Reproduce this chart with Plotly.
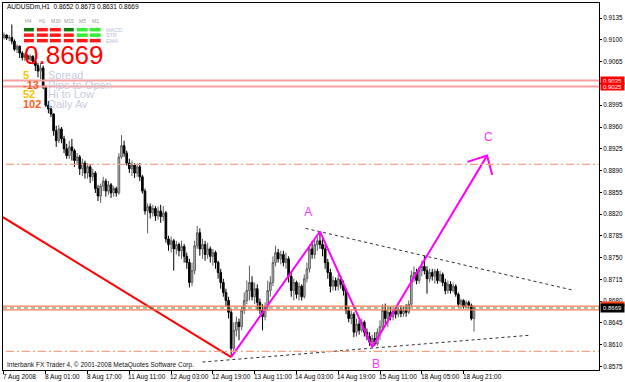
import plotly.graph_objects as go

# ---------------- data ----------------
TITLE_TEXT = "AUDUSDm,H1  0.8652 0.8673 0.8631 0.8669"
COPYRIGHT = "Interbank FX Trader 4, © 2001-2008 MetaQuotes Software Corp."

# hourly bars, prices in pips (x 0.0001)
OPEN_PIPS = [9104,9108,9103,9104,9098,9085,9090,9079,9072,9075,
9069,9074,9066,9059,9050,9055,9024,8995,8989,8981,
8954,8938,8957,8941,8925,8914,8928,8922,8906,8912,
8893,8902,8886,8896,8880,8886,8861,8849,8865,8873,
8857,8867,8854,8861,8854,8912,8930,8918,8902,8893,
8899,8886,8896,8880,8857,8825,8832,8822,8829,8817,
8825,8816,8822,8780,8771,8777,8764,8771,8761,8768,
8752,8742,8710,8729,8769,8790,8764,8771,8755,8764,
8752,8758,8742,8726,8710,8694,8681,8662,8604,8633,
8646,8639,8665,8681,8697,8710,8687,8700,8678,8665,
8655,8671,8697,8710,8742,8758,8748,8755,8742,8748,
8720,8697,8710,8691,8704,8687,8716,8732,8764,8755,
8771,8777,8771,8764,8742,8726,8704,8713,8704,8716,
8707,8697,8665,8652,8659,8630,8643,8633,8646,8630,
8623,8614,8620,8611,8630,8639,8665,8652,8662,8655,
8665,8659,8667,8660,8665,8662,8675,8721,8726,8713,
8729,8736,8729,8716,8726,8720,8728,8713,8723,8710,
8697,8707,8697,8704,8691,8675,8681,8671,8678,8673,
8652]
HIGH_PIPS = [9112,9109,9108,9125,9101,9093,9091,9082,9079,9077,
9077,9075,9071,9063,9063,9059,9027,9002,8994,8982,
8962,8963,8960,8946,8933,8938,8941,8925,8918,8915,
8909,8906,8902,8899,8893,8889,8867,8869,8880,8877,
8873,8870,8865,8864,8918,8947,8938,8922,8909,8906,
8902,8901,8902,8883,8861,8837,8837,8835,8833,8832,
8835,8833,8825,8785,8784,8780,8777,8774,8777,8772,
8758,8748,8742,8777,8801,8797,8780,8777,8774,8768,
8764,8761,8745,8732,8716,8700,8687,8668,8646,8655,
8652,8671,8694,8713,8737,8720,8710,8707,8684,8675,
8678,8713,8720,8752,8769,8764,8761,8761,8758,8752,
8726,8716,8713,8710,8707,8723,8742,8771,8777,8780,
8784,8792,8780,8771,8748,8732,8720,8718,8723,8721,
8713,8700,8671,8665,8662,8652,8649,8652,8649,8636,
8630,8626,8630,8636,8649,8675,8676,8671,8670,8671,
8671,8671,8673,8671,8675,8681,8729,8736,8732,8736,
8745,8753,8736,8732,8732,8732,8732,8729,8726,8716,
8713,8712,8710,8707,8694,8684,8683,8681,8681,8676,
8673]
LOW_PIPS = [9101,9100,9098,9093,9082,9079,9071,9067,9066,9064,
9066,9061,9050,9040,9037,9021,8992,8982,8976,8946,
8928,8934,8934,8918,8909,8909,8906,8896,8899,8883,
8881,8877,8877,8870,8873,8854,8841,8838,8857,8848,
8851,8846,8848,8848,8851,8909,8912,8898,8886,8881,
8878,8880,8873,8853,8819,8789,8813,8816,8809,8811,
8806,8809,8774,8761,8758,8729,8755,8752,8748,8742,
8732,8702,8704,8723,8764,8753,8748,8745,8748,8742,
8737,8732,8716,8700,8687,8671,8652,8590,8598,8623,
8617,8633,8659,8675,8681,8681,8675,8665,8659,8633,
8649,8665,8687,8704,8736,8742,8739,8736,8732,8710,
8687,8681,8684,8681,8681,8684,8710,8726,8748,8748,
8761,8764,8752,8732,8716,8694,8697,8697,8697,8700,
8689,8659,8646,8643,8622,8623,8626,8630,8623,8617,
8608,8606,8608,8608,8617,8633,8643,8638,8649,8649,
8652,8654,8654,8655,8655,8659,8671,8710,8707,8708,
8720,8723,8692,8710,8713,8708,8708,8710,8704,8691,
8692,8692,8694,8687,8670,8671,8668,8670,8668,8649,
8631]
CLOSE_PIPS = [9108,9103,9104,9098,9085,9090,9079,9072,9075,9069,
9074,9066,9059,9050,9055,9024,8995,8989,8981,8954,
8938,8957,8941,8925,8914,8928,8922,8906,8912,8893,
8902,8886,8896,8880,8886,8861,8849,8865,8873,8857,
8867,8854,8861,8854,8912,8930,8918,8902,8893,8899,
8886,8896,8880,8857,8825,8832,8822,8829,8817,8825,
8816,8822,8780,8771,8777,8764,8771,8761,8768,8752,
8742,8710,8729,8769,8790,8764,8771,8755,8764,8752,
8758,8742,8726,8710,8694,8681,8662,8604,8633,8646,
8639,8665,8681,8697,8710,8687,8700,8678,8665,8655,
8671,8697,8710,8742,8758,8748,8755,8742,8748,8720,
8697,8710,8691,8704,8687,8716,8732,8764,8755,8771,
8777,8771,8764,8742,8726,8704,8713,8704,8716,8707,
8697,8665,8652,8659,8630,8643,8633,8646,8630,8623,
8614,8620,8611,8630,8639,8665,8652,8662,8655,8665,
8659,8667,8660,8665,8662,8675,8721,8726,8713,8729,
8736,8729,8716,8726,8720,8728,8713,8723,8710,8697,
8707,8697,8704,8691,8675,8681,8671,8678,8673,8652,
8669]

X_TICK_BARS = [0, 16, 32, 48, 64, 80, 96, 112, 128, 144, 160, 176]
X_TICK_LABELS = ["7 Aug 2008", "8 Aug 01:00", "8 Aug 17:00", "11 Aug 11:00",
                 "12 Aug 03:00", "12 Aug 19:00", "13 Aug 11:00", "14 Aug 03:00",
                 "14 Aug 19:00", "15 Aug 11:00", "18 Aug 05:00", "18 Aug 21:00"]
Y_TICKS = [0.9135, 0.9100, 0.9065, 0.9030, 0.8995, 0.8960, 0.8925, 0.8890, 0.8855,
           0.8820, 0.8785, 0.8750, 0.8715, 0.8680, 0.8645, 0.8610, 0.8575]

PINK_LEVELS = [0.9035, 0.9025]
DASHDOT_LEVELS = [0.8900, 0.8599]
BID = 0.8669
BID_BAND = [0.8672, 0.8666]
ASK_TAG = 0.8675

ABC_BARS = [87, 121, 141, 185]
ABC_PRICES = [0.8590, 0.8792, 0.8606, 0.8914]
ARROW_BARS = [177.5, 185, 187]
ARROW_PRICES = [0.8904, 0.8914, 0.8883]
ABC_LABEL_BARS = [116.5, 142.5, 185.5]
ABC_LABEL_PRICES = [0.8821, 0.8577, 0.8942]
ABC_LABELS = ["A", "B", "C"]

RED_TREND_BARS = [-0.4, 87]
RED_TREND_PRICES = [0.8815, 0.8590]
UPPER_LINE_BARS = [115.5, 218.5]
UPPER_LINE_PRICES = [0.8797, 0.8697]
LOWER_LINE_BARS = [76, 201]
LOWER_LINE_PRICES = [0.8582, 0.8625]

TF_LABELS = ["H4", "H1", "M30", "M15", "M5", "M1"]
IND_LABELS = ["MACD", "STR", "EMA"]
SIGNALS = [["dg", "r", "r", "dg", "g", "g"],
           ["r", "r", "r", "r", "g", "g"],
           ["r", "r", "r", "r", "r", "r"]]
BIG_PRICE = "0.8669"
INFO_VALUES = ["5", "-13", "52", "102"]
INFO_LABELS = ["Spread", "Pips to Open", "Hi to Low", "Daily Av"]

# ---------------- layout helpers ----------------
W, H = 625, 382
ML, MR, MT, MB = 2, 25, 2, 12
PW, PH = W - ML - MR, H - MT - MB
PX_PER_BAR = 2.62
X0 = -0.38
X1 = X0 + PW / PX_PER_BAR
Y_TOP, Y_BOT = 0.91595, 0.85692


def px(x):
    return (x - ML) / PW


def py(y):
    return (H - MB - y) / PH


FONT = "Liberation Sans"
SIG_COL = {"dg": "#0f7a0f", "r": "#ff1a1a", "g": "#33ee33"}
INFO_VAL_COLORS = ["#f5c400", "#ff5a1e", "#f5c400", "#ff5a1e"]

bars = list(range(len(CLOSE_PIPS)))
fig = go.Figure()
fig.add_trace(go.Candlestick(
    x=bars,
    open=[v / 10000 for v in OPEN_PIPS], high=[v / 10000 for v in HIGH_PIPS],
    low=[v / 10000 for v in LOW_PIPS], close=[v / 10000 for v in CLOSE_PIPS],
    increasing=dict(line=dict(color="#606060", width=1), fillcolor="#c4c4c4"),
    decreasing=dict(line=dict(color="#000000", width=1), fillcolor="#000000"),
    whiskerwidth=0, hoverinfo="skip", showlegend=False))

# red trendline
fig.add_trace(go.Scatter(x=RED_TREND_BARS, y=RED_TREND_PRICES, mode="lines",
                         line=dict(color="#ff0000", width=2), hoverinfo="skip", showlegend=False))
# dotted channel lines
for bx, by in [(UPPER_LINE_BARS, UPPER_LINE_PRICES), (LOWER_LINE_BARS, LOWER_LINE_PRICES)]:
    fig.add_trace(go.Scatter(x=bx, y=by, mode="lines",
                             line=dict(color="#303030", width=1, dash="dot"),
                             hoverinfo="skip", showlegend=False))
# ABC pattern
fig.add_trace(go.Scatter(x=ABC_BARS, y=ABC_PRICES, mode="lines",
                         line=dict(color="#ff00ff", width=2), hoverinfo="skip", showlegend=False))
fig.add_trace(go.Scatter(x=ARROW_BARS, y=ARROW_PRICES, mode="lines",
                         line=dict(color="#ff00ff", width=2), hoverinfo="skip", showlegend=False))
fig.add_trace(go.Scatter(x=ABC_LABEL_BARS, y=ABC_LABEL_PRICES, mode="text", text=ABC_LABELS,
                         textfont=dict(family=FONT, size=12, color="#ff33ff"),
                         hoverinfo="skip", showlegend=False))

shapes = []
for lv in PINK_LEVELS:
    shapes.append(dict(type="line", xref="paper", x0=0, x1=1, yref="y", y0=lv, y1=lv,
                       line=dict(color="#f7a0a0", width=2), layer="above"))
for lv in DASHDOT_LEVELS:
    shapes.append(dict(type="line", xref="paper", x0=0.005, x1=1, yref="y", y0=lv, y1=lv,
                       line=dict(color="#f5a080", width=1.3, dash="8px,3px,2px,3px"), layer="above"))
for lv in BID_BAND:
    shapes.append(dict(type="line", xref="paper", x0=0, x1=1, yref="y", y0=lv, y1=lv,
                       line=dict(color="#f47a50", width=1.3), layer="above"))
shapes.append(dict(type="line", xref="paper", x0=0, x1=1, yref="y", y0=BID, y1=BID,
                   line=dict(color="#4a8a3a", width=1, dash="4px,3px"), layer="above"))

# indicator widget cells
col_x = [(23, 33), (36, 47), (49, 60), (63, 73), (76, 87), (89, 100)]
row_y = [(27, 30.5), (32.5, 36), (38, 41.5)]
for r, row in enumerate(SIGNALS):
    for c, s in enumerate(row):
        shapes.append(dict(type="rect", xref="paper", yref="paper",
                           x0=px(col_x[c][0]), x1=px(col_x[c][1]),
                           y0=py(row_y[r][1]), y1=py(row_y[r][0]),
                           fillcolor=SIG_COL[s], line=dict(width=0), layer="above"))

ann = []
for b, lab in zip(X_TICK_BARS, X_TICK_LABELS):
    ann.append(dict(x=b, xref="x", y=0, yref="paper", text=lab, showarrow=False,
                    xanchor="left", yanchor="top", xshift=-3, yshift=-1,
                    font=dict(family=FONT, size=6.5, color="#000000")))
ann.append(dict(x=px(4), y=py(6), xref="paper", yref="paper", text=TITLE_TEXT, showarrow=False,
                xanchor="left", yanchor="middle", font=dict(family=FONT, size=6.5, color="#000000")))
ann.append(dict(x=px(4), y=py(365), xref="paper", yref="paper", text=COPYRIGHT, showarrow=False,
                xanchor="left", yanchor="middle", font=dict(family=FONT, size=6.5, color="#101010")))
tf_cx = [28, 41.3, 54.7, 68, 81.3, 94.7]
for cx, t in zip(tf_cx, TF_LABELS):
    ann.append(dict(x=px(cx), y=py(20), xref="paper", yref="paper", text=t, showarrow=False,
                    xanchor="center", yanchor="middle", font=dict(family=FONT, size=5, color="#9a9a9a")))
for ry, t in zip([28.7, 34.2, 39.7], IND_LABELS):
    ann.append(dict(x=px(103), y=py(ry), xref="paper", yref="paper", text=t, showarrow=False,
                    xanchor="left", yanchor="middle", font=dict(family=FONT, size=5.5, color="#b4bcd4")))
ann.append(dict(x=px(21), y=py(54), xref="paper", yref="paper", text=BIG_PRICE, showarrow=False,
                xanchor="left", yanchor="middle", font=dict(family=FONT, size=26, color="#ff0000")))
for i, (v, t) in enumerate(zip(INFO_VALUES, INFO_LABELS)):
    yy = 74 + 9.8 * i
    ann.append(dict(x=px(20), y=py(yy), xref="paper", yref="paper", text="<b>%s</b>" % v,
                    showarrow=False, xanchor="left", yanchor="middle",
                    font=dict(family=FONT, size=11, color=INFO_VAL_COLORS[i])))
    ann.append(dict(x=px(45), y=py(yy), xref="paper", yref="paper", text=t, showarrow=False,
                    xanchor="left", yanchor="middle",
                    font=dict(family=FONT, size=11, color="#c6cbe0")))
# price tags on the axis
for lv in PINK_LEVELS:
    ann.append(dict(x=1, xref="paper", y=lv, yref="y", text="%.4f" % lv, showarrow=False,
                    xanchor="left", yanchor="middle", xshift=1, bgcolor="#ff0000", borderpad=0,
                    width=23, height=7, font=dict(family=FONT, size=6, color="#ffffff")))
ann.append(dict(x=1, xref="paper", y=ASK_TAG, yref="y", text="", showarrow=False,
                xanchor="left", yanchor="middle", xshift=1, bgcolor="#ff4010", borderpad=0,
                width=23, height=4, font=dict(family=FONT, size=4, color="#ffffff")))
ann.append(dict(x=1, xref="paper", y=BID, yref="y", text="%.4f" % BID, showarrow=False,
                xanchor="left", yanchor="middle", xshift=1, bgcolor="#000000", borderpad=0,
                width=23, height=8, font=dict(family=FONT, size=6, color="#ffffff")))

fig.update_layout(
    width=W, height=H, margin=dict(l=ML, r=MR, t=MT, b=MB),
    paper_bgcolor="#ffffff", plot_bgcolor="#ffffff", showlegend=False,
    shapes=shapes, annotations=ann, boxgap=0.1,
    xaxis=dict(range=[X0, X1], showgrid=False, zeroline=False, showline=True, mirror=True,
               linecolor="#000000", linewidth=1, tickvals=X_TICK_BARS, ticktext=[""] * len(X_TICK_BARS),
               ticks="outside", ticklen=3, tickcolor="#000000", rangeslider=dict(visible=False),
               fixedrange=True),
    yaxis=dict(range=[Y_BOT, Y_TOP], side="right", showgrid=False, zeroline=False, showline=True,
               mirror=True, linecolor="#000000", linewidth=1, tickvals=Y_TICKS, tickformat=".4f",
               ticks="outside", ticklen=2, tickcolor="#000000",
               tickfont=dict(family=FONT, size=6.3, color="#000000"), fixedrange=True),
)
fig.write_html("out.html")
